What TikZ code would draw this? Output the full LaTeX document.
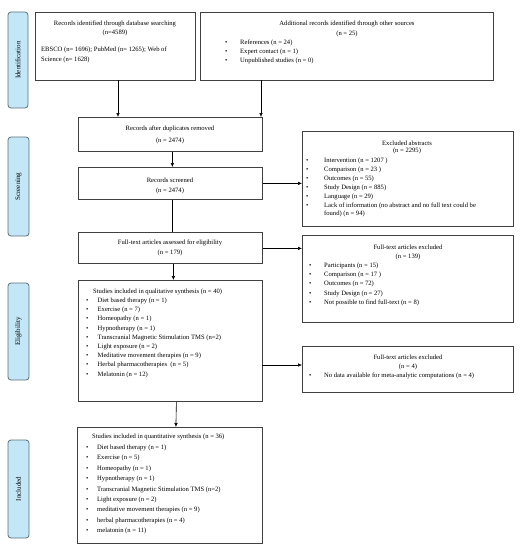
\documentclass[tikz,border=0pt]{standalone}
\usepackage{fontspec}
\setmainfont{Liberation Serif}
\usetikzlibrary{arrows.meta}
\definecolor{lblfill}{HTML}{C4E7F7}
\definecolor{lbldraw}{HTML}{5B7078}
\definecolor{boxdraw}{HTML}{404040}
\tikzset{
  box/.style={draw=boxdraw, line width=0.8pt, fill=white, inner sep=0pt},
  lbl/.style={draw=lbldraw, fill=lblfill, line width=0.8pt, rounded corners=3pt,
    rotate=90, inner sep=0pt, font=\fontsize{7}{8}\selectfont},
  txt/.style={inner sep=0pt, font=\fontsize{6.6}{8}\selectfont},
  arr/.style={-{Latex[length=4pt,width=3.6pt]}, line width=0.6pt, black},
  ln/.style={line width=0.6pt, black}
}
\newcommand{\bul}[1]{\makebox[#1][l]{\textbullet}}
\begin{document}
\begin{tikzpicture}[x=1pt,y=-1pt]
\useasboundingbox (0,0) rectangle (524,550);
% side labels
\node[lbl, minimum width=96pt, minimum height=20pt] (lid) at (18,60) {Identification};
\node[lbl, minimum width=99pt, minimum height=21pt] (lsc) at (18.5,186.5) {Screening};
\node[lbl, minimum width=97pt, minimum height=21pt] (lel) at (18.5,331.5) {Eligibility};
\node[lbl, minimum width=98pt, minimum height=21pt] (lin) at (18.5,489) {Included};
% boxes
\node[box, anchor=north west, minimum width=160pt, minimum height=68pt] (b1) at (35,12) {};
\node[box, anchor=north west, minimum width=293pt, minimum height=68pt] (b2) at (200,12) {};
\node[box, anchor=north west, minimum width=184pt, minimum height=34pt] (b3) at (78,117) {};
\node[box, anchor=north west, minimum width=184pt, minimum height=32pt] (b4) at (78,167) {};
\node[box, anchor=north west, minimum width=211pt, minimum height=95pt] (e1) at (302,131) {};
\node[box, anchor=north west, minimum width=184pt, minimum height=31pt] (b5) at (78,232) {};
\node[box, anchor=north west, minimum width=211pt, minimum height=87pt] (e2) at (302,235) {};
\node[box, anchor=north west, minimum width=184pt, minimum height=121pt] (b6) at (78,280) {};
\node[box, anchor=north west, minimum width=211pt, minimum height=46pt] (e3) at (302,346) {};
\node[box, anchor=north west, minimum width=185pt, minimum height=116pt] (b7) at (77,427) {};
% connectors
\coordinate (c1) at (118,80);
\coordinate (c2) at (261,80);
\draw[arr] (c1) -- (c1 |- b3.north);
\draw[arr] (c2) -- (c2 |- b3.north);
\draw[arr] ([xshift=2pt]b3.south) -- ([xshift=2pt]b4.north);
\draw[arr] (b4.east) -- (b4.east -| e1.west);
\draw[ln] ([xshift=2pt]b4.south) -- ([xshift=2pt]b5.north);
\draw[arr] ([yshift=-0.5pt]b5.east) -- ([yshift=-0.5pt]b5.east -| e2.west);
\draw[arr] ([xshift=3pt]b5.south) -- ([xshift=3pt]b6.north);
\coordinate (c6) at (262,365);
\draw[arr] (c6) -- (c6 -| e3.west);
\draw[arr] ([xshift=6pt]b6.south) -- ([xshift=6pt]b7.north);
% box 1 text
\node[txt] (t1a) at (115,24) {Records identified through database searching};
\node[txt] (t1b) at (115,33) {(n=4589)};
\node[txt, anchor=west] (t1c) at (41,50) {EBSCO (n= 1696); PubMed (n= 1265); Web of};
\node[txt, anchor=west] (t1d) at (41,60) {Science (n= 1628)};
% box 2 text
\node[txt] (t2a) at (347,24) {Additional records identified through other sources};
\node[txt] (t2b) at (347,34) {(n = 25)};
\foreach \t [count=\i] in {{References (n = 24)},{Expert contact (n = 1)},{Unpublished studies (n = 0)}}
  \node[txt, anchor=west] (t2l\i) at (225,{43+9*(\i-1)}) {\bul{15pt}\t};
% box 3, 4, 5
\node[txt] (t3a) at (170,129) {Records after duplicates removed};
\node[txt] (t3b) at (170,141) {(n = 2474)};
\node[txt] (t4a) at (170,180) {Records screened};
\node[txt] (t4b) at (170,191) {(n = 2474)};
\node[txt] (t5a) at (170,243) {Full-text articles assessed for eligibility};
\node[txt] (t5b) at (170,253) {(n = 179)};
% excluded abstracts
\node[txt] (e1a) at (407,143) {Excluded abstracts};
\node[txt] (e1b) at (407,151) {(n = 2295)};
\foreach \t [count=\i] in {{Intervention (n = 1207 )},{Comparison (n = 23 )},{Outcomes (n = 55)},{Study Design (n = 885)},{Language (n = 29)},{Lack of information (no abstract and no full text could be}}
  \node[txt, anchor=west] (e1l\i) at (306,{161+9*(\i-1)}) {\bul{18pt}\t};
\node[txt, anchor=west] (e1l7) at (324,214) {found) (n = 94)};
% full-text excluded
\node[txt] (e2a) at (408,247) {Full-text articles excluded};
\node[txt] (e2b) at (408,257) {(n = 139)};
\foreach \t [count=\i] in {{Participants (n = 15)},{Comparison (n = 17 )},{Outcomes (n = 72)},{Study Design (n = 27)},{Not possible to find full-text (n = 8)}}
  \node[txt, anchor=west] (e2l\i) at (309,{266+9.2*(\i-1)}) {\bul{15pt}\t};
% full-text excluded 2
\node[txt] (e3a) at (408,357) {Full-text articles excluded};
\node[txt] (e3b) at (408,367) {(n = 4)};
\node[txt, anchor=west] (e3l1) at (309,376) {\bul{15pt}No data available for meta-analytic computations (n = 4)};
% qualitative
\node[txt, anchor=west] (t6a) at (93,292) {Studies included in qualitative synthesis (n = 40)};
\foreach \t [count=\i] in {{Diet based therapy (n = 1)},{Exercise (n = 7)},{Homeopathy (n = 1)},{Hypnotherapy (n = 1)},{Transcranial Magnetic Stimulation TMS (n=2)},{Light exposure (n = 2)},{Meditative movement therapies (n = 9)},{Herbal pharmacotherapies \ (n = 5)},{Melatonin (n = 12)}}
  \node[txt, anchor=west] (t6l\i) at (86,{301+9.2*(\i-1)}) {\bul{11.5pt}\t};
% quantitative
\node[txt, anchor=west] (t7a) at (92,437) {Studies included in quantitative synthesis (n = 36)};
\foreach \t [count=\i] in {{Diet based therapy (n = 1)},{Exercise (n = 5)},{Homeopathy (n = 1)},{Hypnotherapy (n = 1)},{Transcranial Magnetic Stimulation TMS (n=2)},{Light exposure (n = 2)},{meditative movement therapies (n = 9)},{herbal pharmacotherapies (n = 4)},{melatonin (n = 11)}}
  \node[txt, anchor=west] (t7l\i) at (86,{448+10.4*(\i-1)}) {\bul{11pt}\t};
\end{tikzpicture}
\end{document}
